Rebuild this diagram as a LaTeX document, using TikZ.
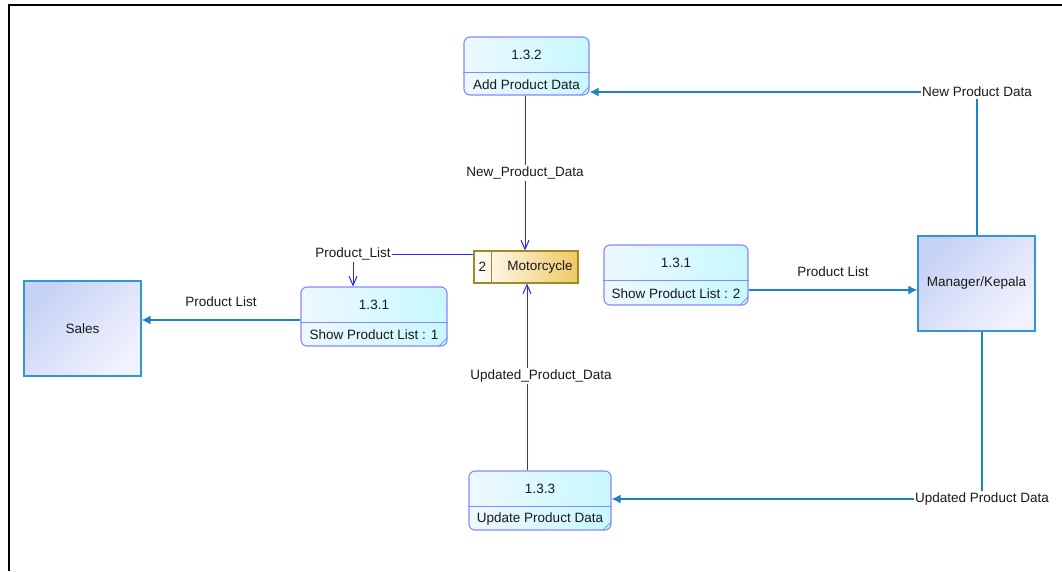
\documentclass[tikz,border=0pt]{standalone}
\usepackage{fontspec}
\setmainfont{Liberation Sans}
\usetikzlibrary{arrows.meta,calc}

\definecolor{txt}{RGB}{25,25,25}
\definecolor{eline}{RGB}{30,130,200}
\definecolor{sline}{RGB}{40,40,250}
\definecolor{pborder}{RGB}{135,135,255}
\definecolor{pfillA}{RGB}{238,248,255}
\definecolor{pfillB}{RGB}{200,248,255}
\definecolor{dborder}{RGB}{160,140,30}
\definecolor{dfill}{RGB}{240,200,100}
\definecolor{xborder}{RGB}{50,150,210}
\definecolor{xfillA}{RGB}{198,210,244}
\definecolor{xfillB}{RGB}{242,242,255}

\tikzset{
  every node/.style={font=\fontsize{13.5}{15}\selectfont, text=txt, inner sep=1pt},
  procbox/.style={draw=pborder, line width=1.1pt, rounded corners=6pt,
    left color=pfillA, right color=pfillB},
  procline/.style={draw=pborder, line width=1.1pt},
  storebox/.style={draw=dborder, line width=1.1pt, left color=white, right color=dfill},
  extbox/.style={draw=xborder, line width=1.2pt,
    top color=xfillA, bottom color=xfillB, shading angle=45},
  eflow/.style={draw=eline, line width=1.5pt},
  eflowarr/.style={eflow, -{Latex[length=9pt,width=9pt]}},
  sflow/.style={draw=sline, line width=1pt},
  sflowarr/.style={sflow, -{Straight Barb[length=9pt,width=8pt]}},
  lbl/.style={fill=white, inner sep=1.5pt},
}

% processes: box, divider, number
\newcommand{\dfdproc}[6]{%
  \node[procbox, minimum width=#4pt, minimum height=#5pt] (#1) at (#2,#3) {};
  \draw[procline] ([yshift=-36pt]#1.north west) -- ([yshift=-36pt]#1.north east);
  \draw[procline, line width=0.7pt] ([xshift=-9pt]#1.south east) -- ([yshift=9pt]#1.south east);
  \node (#1num) at ([yshift=-18pt]#1.north) {#6};
}

\begin{document}
\begin{tikzpicture}[x=1pt,y=-1pt]
\useasboundingbox (0,0) rectangle (1062,571);

% outer frame (top and left edges)
\draw[black, line width=2.5pt] (9,571) -- (9,5) -- (1062,5);

% external entities
\node[extbox, minimum width=117pt, minimum height=95pt] (sales) at (82.5,328.5) {Sales};
\node[extbox, minimum width=117pt, minimum height=95pt] (mgr) at (976.5,283.5) {Manager/Kepala};

\dfdproc{p132}{526.5}{66}{125}{58}{1.3.2}
\node (p132name) at ([yshift=11pt]p132.south) {Add Product Data};
\dfdproc{p131a}{374}{316.5}{146}{59}{1.3.1}
\node (p131aname) at ([yshift=12pt]p131a.south) {Show Product List : 1};
\dfdproc{p131b}{676}{275}{144}{60}{1.3.1}
\node (p131bname) at ([yshift=12pt]p131b.south) {Show Product List : 2};
\dfdproc{p133}{540}{500.5}{142}{59}{1.3.3}
\node (p133name) at ([yshift=12pt]p133.south) {Update Product Data};

% data store
\node[storebox, minimum width=104pt, minimum height=32pt] (store) at (526,267) {};
\draw[draw=dborder, line width=1.1pt] ([xshift=18pt]store.north west) -- ([xshift=18pt]store.south west);
\node (storeid) at ([xshift=9pt]store.west) {2};
\node (storename) at ([xshift=14pt]store.center) {Motorcycle};

% flow labels
\node[lbl] (lNew) at (977,92) {New Product Data};
\node[lbl] (lUpd) at (982,499) {Updated Product Data};
\node (lPLr) at (833,272) {Product List};
\node (lPLl) at (221,302) {Product List};
\node[lbl] (lPLs) at (353,254) {Product\_List};
\node[lbl] (lNews) at (525,173) {New\_Product\_Data};
\node[lbl] (lUpds) at (541,376) {Updated\_Product\_Data};

% flows between entities and processes
\draw[eflow] (mgr.north -| lNew) -- (lNew.south);
\draw[eflowarr] (lNew.west) -- (p132.east |- lNew.west);
\draw[eflow] (mgr.south -| lUpd) -- (lUpd.north);
\draw[eflowarr] (lUpd.west) -- (p133.east |- lUpd.west);
\coordinate (r0) at ([yshift=-15pt]p131b.east);
\draw[eflowarr] (r0) -- (mgr.west |- r0);
\coordinate (l0) at ([yshift=-3.5pt]p131a.west);
\draw[eflowarr] (l0) -- (sales.east |- l0);

% flows to and from the data store
\draw[sflow] (store.west |- lPLs) -- (lPLs.east);
\draw[sflowarr] (lPLs.south) -- (lPLs.south |- p131a.north);
\draw[sflow] (p132.south -| lNews) -- (lNews.north);
\draw[sflowarr] (lNews.south) -- (lNews.south |- store.north);
\coordinate (u0) at ([xshift=-13pt]p133.north);
\draw[sflow] (u0) -- (u0 |- lUpds.south);
\draw[sflowarr] (u0 |- lUpds.north) -- (u0 |- store.south);
\end{tikzpicture}
\end{document}
